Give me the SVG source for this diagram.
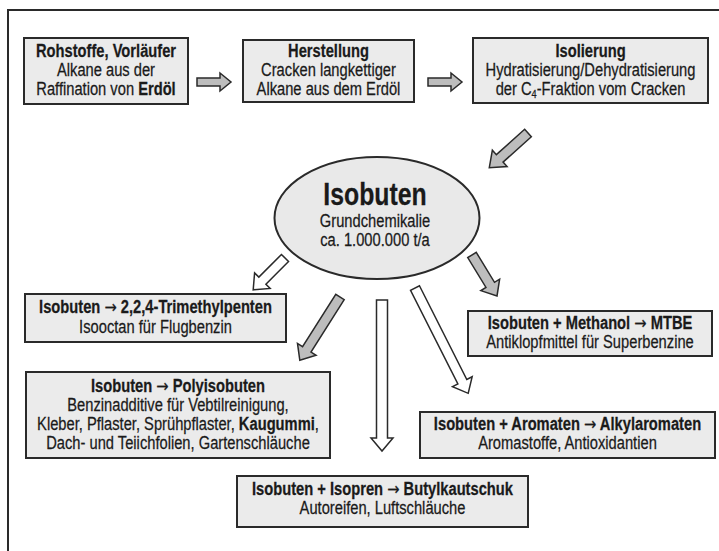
<svg xmlns="http://www.w3.org/2000/svg" width="719" height="551" viewBox="0 0 719 551">
<style>
.box{fill:#ebebeb;stroke:#2a2a2a;stroke-width:2}
.t{font-family:"Liberation Sans",Arial,sans-serif;font-size:17.5px;fill:#1a1a1a;text-anchor:middle;stroke:#1a1a1a;stroke-width:0.25}
.b{font-weight:bold}
.big{font-size:31px}
.ar{font-family:"DejaVu Sans",sans-serif;font-weight:normal}
.ga{fill:#bdbdbd;stroke:#2a2a2a;stroke-width:1.5}
.wa{fill:#ffffff;stroke:#2a2a2a;stroke-width:1.5}
</style>
<rect width="719" height="551" fill="#ffffff"/>
<path d="M8,551 V10 H719" fill="none" stroke="#2a2a2a" stroke-width="2"/>

<g id="connectors">
<polygon class="ga" points="0,-4 23,-4 23,-9 34,0 23,9 23,4 0,4" transform="translate(197,82)"/>
<polygon class="ga" points="0,-4 23,-4 23,-9 34,0 23,9 23,4 0,4" transform="translate(428,82)"/>
<polygon class="ga" points="0,-5 38,-5 38,-11 52,0 38,11 38,5 0,5" transform="translate(528,133) rotate(138.1)"/>
<polygon class="wa" points="0,-5 32,-5 32,-11 45,0 32,11 32,5 0,5" transform="translate(285,258) rotate(135)"/>
<polygon class="ga" points="0,-5 35,-5 35,-11 48,0 35,11 35,5 0,5" transform="translate(472,255) rotate(58.6)"/>
<polygon class="ga" points="0,-5 62,-5 62,-11 75,0 62,11 62,5 0,5" transform="translate(340,297) rotate(122.4)"/>
<polygon class="wa" points="0,-5.5 138,-5.5 138,-11 151,0 138,11 138,5.5 0,5.5" transform="translate(382,300) rotate(90)"/>
<polygon class="wa" points="0,-5 105,-5 105,-11 118,0 105,11 105,5 0,5" transform="translate(415,288) rotate(63.2)"/>
</g>

<g id="rohstoffe">
<rect class="box" x="24" y="38" width="164" height="66"/>
<g transform="translate(106,0) scale(0.84,1)">
<text class="t b" x="0" y="57">Rohstoffe, Vorläufer</text>
<text class="t" x="0" y="76">Alkane aus der</text>
<text class="t" x="0" y="95">Raffination von <tspan class="b">Erdöl</tspan></text>
</g>
</g>

<g id="herstellung">
<rect class="box" x="243" y="40" width="171" height="62"/>
<g transform="translate(328.5,0) scale(0.84,1)">
<text class="t b" x="0" y="57">Herstellung</text>
<text class="t" x="0" y="76">Cracken langkettiger</text>
<text class="t" x="0" y="95">Alkane aus dem Erdöl</text>
</g>
</g>

<g id="isolierung">
<rect class="box" x="473" y="38" width="235" height="65"/>
<g transform="translate(590.5,0) scale(0.84,1)">
<text class="t b" x="0" y="57">Isolierung</text>
<text class="t" x="0" y="76">Hydratisierung/Dehydratisierung</text>
<text class="t" x="0" y="95">der C<tspan style="font-size:11px" dy="3">4</tspan><tspan dy="-3">-Fraktion vom Cracken</tspan></text>
</g>
</g>

<g id="isobuten">
<ellipse cx="377" cy="218" rx="102.5" ry="61" fill="#e9e9e9" stroke="#2a2a2a" stroke-width="2"/>
<g transform="translate(375,0) scale(0.8,1)">
<text class="t b big" x="0" y="205">Isobuten</text>
</g>
<g transform="translate(375,0) scale(0.84,1)">
<text class="t" x="0" y="227">Grundchemikalie</text>
<text class="t" x="0" y="246">ca. 1.000.000 t/a</text>
</g>
</g>

<g id="trimethylpenten">
<rect class="box" x="25" y="294" width="261" height="48"/>
<g transform="translate(155.5,0) scale(0.84,1)">
<text class="t b" x="0" y="313">Isobuten <tspan class="ar">→</tspan> 2,2,4-Trimethylpenten</text>
<text class="t" x="0" y="333">Isooctan für Flugbenzin</text>
</g>
</g>

<g id="mtbe">
<rect class="box" x="468" y="311" width="244" height="45"/>
<g transform="translate(590,0) scale(0.84,1)">
<text class="t b" x="0" y="329">Isobuten + Methanol <tspan class="ar">→</tspan> MTBE</text>
<text class="t" x="0" y="348">Antiklopfmittel für Superbenzine</text>
</g>
</g>

<g id="polyisobuten">
<rect class="box" x="26" y="372" width="304" height="86"/>
<g transform="translate(178,0) scale(0.84,1)">
<text class="t b" x="0" y="392">Isobuten <tspan class="ar">→</tspan> Polyisobuten</text>
<text class="t" x="0" y="411">Benzinadditive für Vebtilreinigung,</text>
<text class="t" x="0" y="430">Kleber, Pflaster, Sprühpflaster, <tspan class="b">Kaugummi</tspan>,</text>
<text class="t" x="0" y="449">Dach- und Teiichfolien, Gartenschläuche</text>
</g>
</g>

<g id="alkylaromaten">
<rect class="box" x="420" y="412" width="295" height="46"/>
<g transform="translate(567.5,0) scale(0.84,1)">
<text class="t b" x="0" y="430">Isobuten + Aromaten <tspan class="ar">→</tspan> Alkylaromaten</text>
<text class="t" x="0" y="449">Aromastoffe, Antioxidantien</text>
</g>
</g>

<g id="butylkautschuk">
<rect class="box" x="237" y="476" width="291" height="51"/>
<g transform="translate(382.5,0) scale(0.84,1)">
<text class="t b" x="0" y="495">Isobuten + Isopren <tspan class="ar">→</tspan> Butylkautschuk</text>
<text class="t" x="0" y="514">Autoreifen, Luftschläuche</text>
</g>
</g>
</svg>
